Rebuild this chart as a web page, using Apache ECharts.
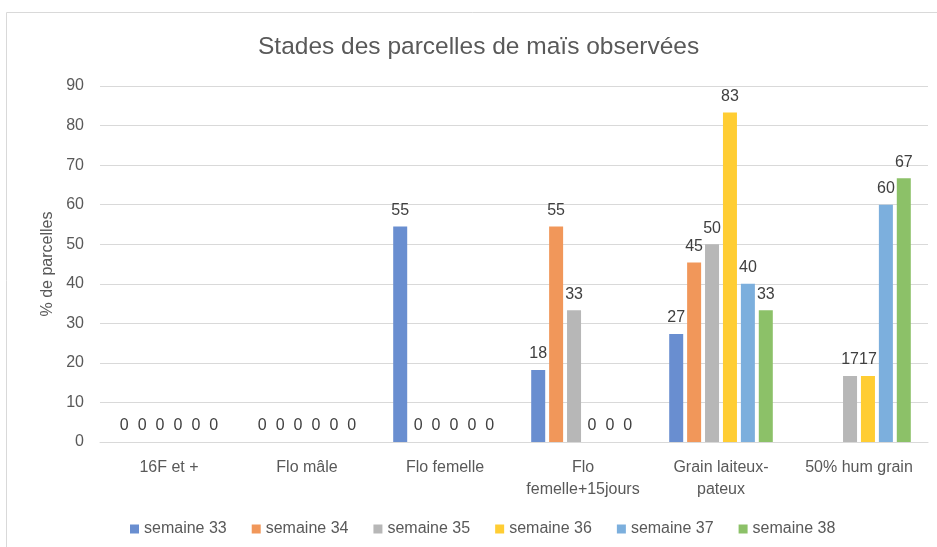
<!DOCTYPE html>
<html><head><meta charset="utf-8">
<script src="https://cdn.jsdelivr.net/npm/echarts@6/dist/echarts.min.js"></script>
<style>html,body{margin:0;padding:0;background:#fff}#c{width:937px;height:547px}</style>
</head><body><div id="c"></div>
<script>
const categories = ["16F et +", "Flo mâle", "Flo femelle", "Flo\nfemelle+15jours", "Grain laiteux-\npateux", "50% hum grain"];
const seriesNames = ["semaine 33", "semaine 34", "semaine 35", "semaine 36", "semaine 37", "semaine 38"];
const s33 = [0, 0, 54.5, 18.2, 27.3, null];
const s34 = [0, 0, 0, 54.5, 45.4, null];
const s35 = [0, 0, 0, 33.3, 50, 16.7];
const s36 = [0, 0, 0, 0, 83.3, 16.7];
const s37 = [0, 0, 0, 0, 40, 60];
const s38 = [0, 0, 0, 0, 33.3, 66.7];
const colors = ["#698ED0", "#F1975A", "#B7B7B7", "#FFCD33", "#7CAFDD", "#8CC168"];
const yTicks = [0, 10, 20, 30, 40, 50, 60, 70, 80, 90];

const font = "Liberation Sans";
const allData = [s33, s34, s35, s36, s37, s38];
const chart = echarts.init(document.getElementById('c'));
chart.setOption({
  animation: false,
  color: colors,
  graphic: [{type: 'rect', shape: {x: 6.5, y: 12.5, width: 940, height: 545}, style: {fill: 'none', stroke: '#d9d9d9', lineWidth: 1}}],
  title: {text: "Stades des parcelles de maïs observées", left: 253, top: 30,
    textStyle: {fontFamily: font, fontSize: 24.5, fontWeight: 'normal', color: '#595959'}},
  grid: {left: 100, right: 9, top: 86, bottom: 105, containLabel: false},
  legend: {bottom: 5, left: 125, itemWidth: 9, itemHeight: 9, itemGap: 25, icon: 'rect',
    textStyle: {fontFamily: font, fontSize: 16, color: '#595959'}},
  xAxis: {type: 'category', data: categories,
    axisLine: {lineStyle: {color: '#d9d9d9', width: 1}}, axisTick: {show: false},
    axisLabel: {fontFamily: font, fontSize: 16, color: '#595959', margin: 15, lineHeight: 22, interval: 0}},
  yAxis: {type: 'value', min: yTicks[0], max: yTicks[yTicks.length - 1], interval: 10,
    name: '% de parcelles', nameLocation: 'middle', nameGap: 43, nameRotate: 90,
    nameTextStyle: {fontFamily: font, fontSize: 16, color: '#595959'},
    axisLine: {show: false}, axisTick: {show: false},
    splitLine: {lineStyle: {color: '#d9d9d9', width: 1}},
    axisLabel: {fontFamily: font, fontSize: 16, color: '#595959', margin: 16}},
  series: seriesNames.map((n, i) => ({
    name: n, type: 'bar', data: allData[i], barWidth: 14, barGap: '28%',
    label: {show: true, position: 'top', distance: 8, fontFamily: font, fontSize: 16, color: '#404040',
      formatter: p => p.value == null ? '' : Math.round(p.value)}
  }))
});
</script></body></html>
